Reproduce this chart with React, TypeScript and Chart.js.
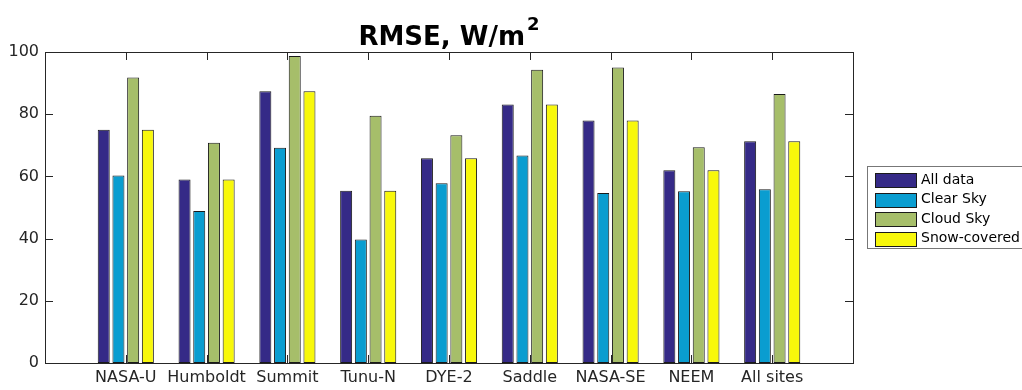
import React, { useEffect, useRef } from "react";
import { Chart, registerables } from "chart.js";

Chart.register(...registerables);

// Sites and RMSE values (W/m²) per sky condition
const sites = ["NASA-U", "Humboldt", "Summit", "Tunu-N", "DYE-2", "Saddle", "NASA-SE", "NEEM", "All sites"];
const allData = [75.0, 59.0, 87.4, 55.4, 65.8, 83.1, 78.0, 62.0, 71.3];
const clearSky = [60.3, 48.9, 69.2, 39.7, 57.8, 66.7, 54.7, 55.2, 55.9];
const cloudSky = [91.8, 70.8, 98.7, 79.5, 73.2, 94.3, 95.0, 69.4, 86.5];
const snowCovered = [75.0, 59.0, 87.4, 55.4, 65.8, 83.1, 78.0, 62.0, 71.3];
const seriesNames = ["All data", "Clear Sky", "Cloud Sky", "Snow-covered"];
const seriesColors = ["#352a87", "#0a9dd0", "#a6be6a", "#f8f80b"];
const yTicks = [0, 20, 40, 60, 80, 100];

const FONT = "'DejaVu Sans', sans-serif";
const AXIS_COLOR = "#262626";

// empty slot on each side so the groups sit at 1..9 on a 0..10 span
const pad = (a: (number | null)[]) => [null, ...a, null];

const framePlugin = {
  id: "frame",
  beforeDatasetsDraw(chart: any) {
    const { ctx, chartArea: a, scales } = chart;
    const tick = 8;
    ctx.save();
    ctx.strokeStyle = AXIS_COLOR;
    ctx.lineWidth = 1;
    ctx.beginPath();
    for (let i = 1; i <= sites.length; i++) {
      const x = Math.round(scales.x.getPixelForValue(i)) + 0.5;
      ctx.moveTo(x, a.top);
      ctx.lineTo(x, a.top + tick);
      ctx.moveTo(x, a.bottom);
      ctx.lineTo(x, a.bottom - tick);
    }
    for (const v of yTicks) {
      const y = Math.round(scales.y.getPixelForValue(v)) + 0.5;
      ctx.moveTo(a.left, y);
      ctx.lineTo(a.left + tick, y);
      ctx.moveTo(a.right, y);
      ctx.lineTo(a.right - tick, y);
    }
    ctx.stroke();
    ctx.restore();
  },
  afterDatasetsDraw(chart: any) {
    const { ctx, chartArea: a } = chart;
    ctx.save();
    ctx.strokeStyle = AXIS_COLOR;
    ctx.lineWidth = 1;
    ctx.strokeRect(Math.round(a.left) + 0.5, Math.round(a.top) + 0.5, Math.round(a.right - a.left), Math.round(a.bottom - a.top));
    ctx.restore();
  },
};

const titlePlugin = {
  id: "supTitle",
  afterDraw(chart: any) {
    const { ctx, chartArea: a } = chart;
    const main = "RMSE, W/m";
    const sup = "2";
    ctx.save();
    ctx.fillStyle = "#000";
    ctx.textBaseline = "alphabetic";
    ctx.textAlign = "left";
    ctx.font = `bold 26px ${FONT}`;
    const wMain = ctx.measureText(main).width;
    ctx.font = `bold 18px ${FONT}`;
    const wSup = ctx.measureText(sup).width;
    const x0 = (a.left + a.right) / 2 - (wMain + wSup + 2) / 2;
    ctx.font = `bold 26px ${FONT}`;
    ctx.fillText(main, x0, 45);
    ctx.font = `bold 18px ${FONT}`;
    ctx.fillText(sup, x0 + wMain + 2, 30);
    ctx.restore();
  },
};

const legendPlugin = {
  id: "boxLegend",
  afterDraw(chart: any) {
    const { ctx } = chart;
    const left = 867.5;
    const top = 166.5;
    const rowH = 19.5;
    ctx.save();
    ctx.fillStyle = "#fff";
    ctx.strokeStyle = "#777";
    ctx.lineWidth = 1;
    ctx.fillRect(left, top, 170, 82);
    ctx.strokeRect(left, top, 170, 82);
    ctx.font = `14px ${FONT}`;
    ctx.textBaseline = "middle";
    ctx.textAlign = "left";
    chart.data.datasets.forEach((ds: any, i: number) => {
      const cy = top + 13.5 + i * rowH;
      ctx.fillStyle = ds.backgroundColor;
      ctx.fillRect(875.5, Math.round(cy - 7) + 0.5, 41, 14);
      ctx.strokeStyle = "#1a1a1a";
      ctx.strokeRect(875.5, Math.round(cy - 7) + 0.5, 41, 14);
      ctx.fillStyle = "#000";
      ctx.fillText(ds.label, 921, cy);
    });
    ctx.restore();
  },
};

export default function App() {
  const canvasRef = useRef<HTMLCanvasElement>(null);

  useEffect(() => {
    document.body.style.margin = "0";
    const canvas = canvasRef.current;
    if (!canvas) return;
    const values = [allData, clearSky, cloudSky, snowCovered];
    const chart = new Chart(canvas, {
      type: "bar",
      data: {
        labels: ["", ...sites, ""],
        datasets: values.map((v, i) => ({
          label: seriesNames[i],
          data: pad(v),
          backgroundColor: seriesColors[i],
          borderColor: "#1a1a1a",
          borderWidth: 1,
          borderSkipped: false,
          categoryPercentage: 0.728,
          barPercentage: 0.816,
        })),
      },
      options: {
        responsive: false,
        animation: false,
        layout: { padding: { top: 52, right: 169, left: 0, bottom: 0 } },
        plugins: {
          legend: { display: false },
          title: { display: false },
          tooltip: { enabled: false },
        },
        scales: {
          x: {
            offset: false,
            grid: { display: false, drawTicks: false, offset: false },
            border: { display: false },
            ticks: {
              color: AXIS_COLOR,
              font: { family: FONT, size: 16 },
              padding: 5,
              maxRotation: 0,
              autoSkip: false,
            },
            afterFit(scale: any) {
              scale.height = 27;
            },
          },
          y: {
            min: 0,
            max: 100,
            grid: { display: false, drawTicks: false },
            border: { display: false },
            ticks: {
              stepSize: 20,
              color: AXIS_COLOR,
              font: { family: FONT, size: 16 },
              padding: 6,
            },
            afterFit(scale: any) {
              scale.width = 45;
            },
          },
        },
      },
      plugins: [framePlugin, titlePlugin, legendPlugin],
    });
    return () => chart.destroy();
  }, []);

  return (
    <div style={{ width: 1022, height: 390 }}>
      <canvas ref={canvasRef} width={1022} height={390} />
    </div>
  );
}
